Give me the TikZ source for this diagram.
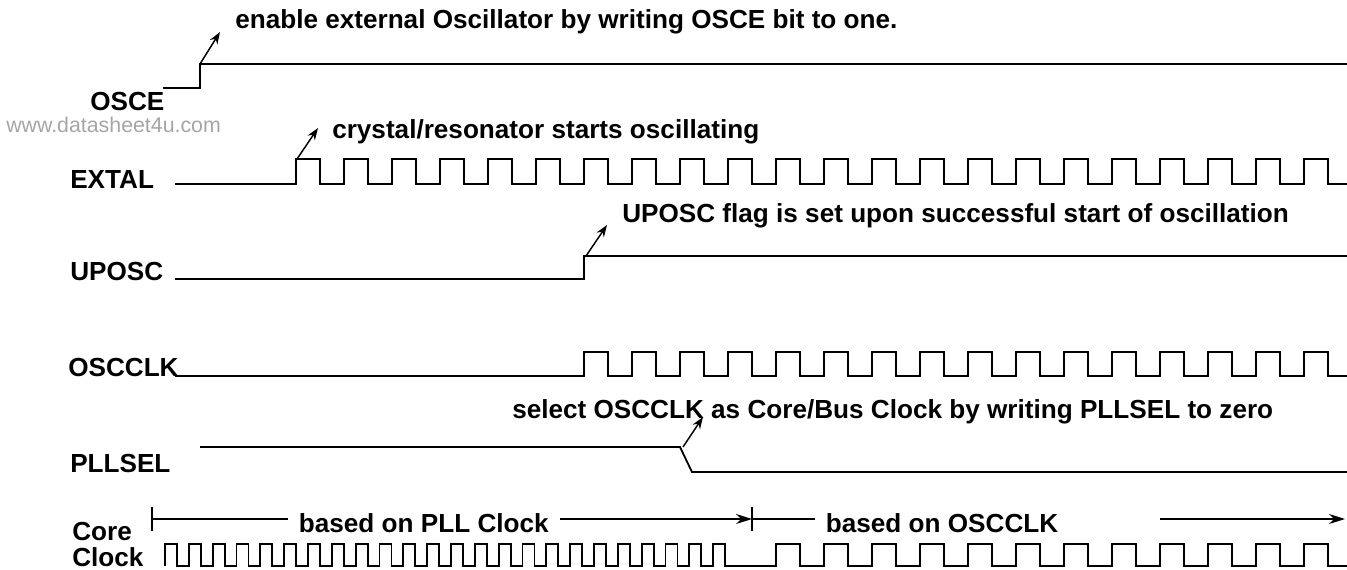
\documentclass[tikz,border=0pt]{standalone}
\usepackage{fontspec}
\setmainfont{Liberation Sans}
\usetikzlibrary{arrows.meta}
\definecolor{wmgray}{RGB}{165,165,165}
\begin{document}
\begin{tikzpicture}[x=0.75pt,y=-0.75pt,
  sig/.style={line width=1.35pt, line join=miter},
  lbl/.style={font=\fontsize{19.6}{22}\selectfont\bfseries, anchor=base west, inner sep=0pt},
  ann/.style={line width=1.1pt,-{Stealth[length=9pt,width=6.5pt]}},
  tl/.style={line width=0.9pt},
  tlarr/.style={tl,-{Stealth[length=12pt,width=7.5pt]}},
  tltext/.style={lbl, inner xsep=8pt}]
\useasboundingbox (0,0) rectangle (1347,569);

% signal labels
\node[lbl] (osce) at (90,110) {OSCE};
\node[lbl] (extal) at (70,188) {EXTAL};
\node[lbl] (uposc) at (70,280) {UPOSC};
\node[lbl] (oscclk) at (68,376) {OSCCLK};
\node[lbl] (pllsel) at (70,472) {PLLSEL};
\node[lbl] (core) at (72,540) {Core};
\node[lbl] (clock) at (72,566) {Clock};

% watermark
\node[anchor=base west, inner sep=0pt, font=\fontsize{16}{18}\selectfont, text=wmgray] (wm) at (6,132) {www.datasheet4u.com};

% annotations
\node[lbl] (n1) at (235,28) {enable external Oscillator by writing OSCE bit to one.};
\node[lbl] (n2) at (332,138) {crystal/resonator starts oscillating};
\node[lbl] (n3) at (622,222) {UPOSC flag is set upon successful start of oscillation};
\node[lbl] (n4) at (512,418) {select OSCCLK as Core/Bus Clock by writing PLLSEL to zero};

% OSCE
\draw[sig] (163,88) -- (200,88) -- (200,64) -- (1347,64);
% EXTAL
\draw[sig] (175,184) foreach \k in {0,...,21} { -- ({296+48*\k},184) -- ({296+48*\k},159) -- ({320+48*\k},159) -- ({320+48*\k},184) } -- (1347,184);
% UPOSC
\draw[sig] (175,279) -- (584,279) -- (584,256) -- (1347,256);
% OSCCLK
\draw[sig] (175,376) foreach \k in {0,...,15} { -- ({584+48*\k},376) -- ({584+48*\k},352) -- ({608+48*\k},352) -- ({608+48*\k},376) } -- (1347,376);
% PLLSEL
\draw[sig] (200,447) -- (680,447) -- (692,472) -- (1347,472);
% Core Clock
\draw[sig] (165,566) foreach \k in {0,...,23} { -- ({165+23.83*\k},566) -- ({165+23.83*\k},544) -- ({177+23.83*\k},544) -- ({177+23.83*\k},566) } -- (776,566)
  foreach \k in {0,...,11} { -- ({776+48*\k},566) -- ({776+48*\k},544) -- ({800+48*\k},544) -- ({800+48*\k},566) } -- (1347,566);

% annotation arrows
\coordinate (a1s) at (200,64);  \coordinate (a1e) at (220,32);
\coordinate (a2s) at (297,159); \coordinate (a2e) at (318,128);
\coordinate (a3s) at (586,256); \coordinate (a3e) at (607,225);
\coordinate (a4s) at (683,447); \coordinate (a4e) at (703,417);
\draw[ann] (a1s) -- (a1e);
\draw[ann] (a2s) -- (a2e);
\draw[ann] (a3s) -- (a3e);
\draw[ann] (a4s) -- (a4e);

% timeline
\coordinate (t1) at (152,519);
\coordinate (t1a) at (152,507); \coordinate (t1b) at (152,531);
\coordinate (t2) at (752,519);
\coordinate (t2a) at (752,507); \coordinate (t2b) at (752,531);
\coordinate (t3s) at (1160,519); \coordinate (t3e) at (1345,519);
\node[tltext] (b1) at (288,532) {based on PLL Clock};
\node[tltext] (b2) at (815,532) {based on OSCCLK};
\draw[tl] (t1a) -- (t1b);
\draw[tl] (t2a) -- (t2b);
\draw[tl] (t1) -- (b1.west |- t1);
\draw[tlarr] (b1.east |- t2) -- (t2);
\draw[tl] (t2) -- (b2.west |- t2);
\draw[tlarr] (t3s) -- (t3e);
\end{tikzpicture}
\end{document}
